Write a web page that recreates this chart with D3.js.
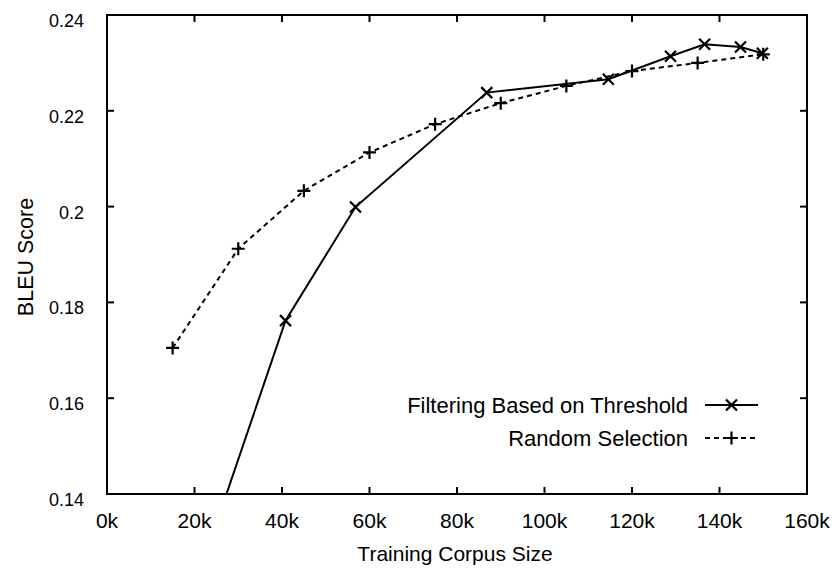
<!DOCTYPE html>
<html>
<head>
<meta charset="utf-8">
<script src="https://cdn.jsdelivr.net/npm/d3@7"></script>
<style>
  html, body { margin: 0; padding: 0; background: #fff; }
  text { font-family: "Liberation Sans", Arial, Helvetica, sans-serif; fill: #000; }
</style>
</head>
<body>
<svg id="chart" width="837" height="572"></svg>
<script>
// ---- data ----
const filterX = [25000, 40800, 56800, 86800, 114600, 128800, 136600, 144800, 149800];
const filterY = [0.1338, 0.1762, 0.1999, 0.2238, 0.2266, 0.2314, 0.2339, 0.2333, 0.2320];
const randomX = [15000, 30000, 45000, 60000, 75000, 90000, 105000, 120000, 135000, 150000];
const randomY = [0.1705, 0.1912, 0.2033, 0.2113, 0.2172, 0.2216, 0.2252, 0.2283, 0.2300, 0.2318];
const xTicks = [0, 20000, 40000, 60000, 80000, 100000, 120000, 140000, 160000];
const xTickLabels = ["0k", "20k", "40k", "60k", "80k", "100k", "120k", "140k", "160k"];
const yTicks = [0.14, 0.16, 0.18, 0.2, 0.22, 0.24];
const yTickLabels = ["0.14", "0.16", "0.18", "0.2", "0.22", "0.24"];
const seriesNames = ["Filtering Based on Threshold", "Random Selection"];
const xTitle = "Training Corpus Size";
const yTitle = "BLEU Score";

// ---- layout ----
const L = 107, R = 807, T = 15, B = 494;
const svg = d3.select("#chart");
const x = d3.scaleLinear().domain([0, 160000]).range([L, R]);
const y = d3.scaleLinear().domain([0.14, 0.24]).range([B, T]);

svg.append("defs").append("clipPath").attr("id", "clip")
  .append("rect").attr("x", L).attr("y", T).attr("width", R - L).attr("height", B - T);

// ticks (inside, mirrored)
const tl = 7;
const tickG = svg.append("g").attr("stroke", "#000").attr("stroke-width", 2);
xTicks.forEach(v => {
  tickG.append("line").attr("x1", x(v)).attr("x2", x(v)).attr("y1", B).attr("y2", B - tl);
  tickG.append("line").attr("x1", x(v)).attr("x2", x(v)).attr("y1", T).attr("y2", T + tl);
});
yTicks.forEach(v => {
  tickG.append("line").attr("x1", L).attr("x2", L + tl).attr("y1", y(v)).attr("y2", y(v));
  tickG.append("line").attr("x1", R).attr("x2", R - tl).attr("y1", y(v)).attr("y2", y(v));
});

// tick labels
svg.append("g").selectAll("text").data(xTicks).join("text")
  .attr("x", d => x(d)).attr("y", B + 34).attr("text-anchor", "middle")
  .attr("font-size", 21).text((d, i) => xTickLabels[i]);
svg.append("g").selectAll("text").data(yTicks).join("text")
  .attr("x", L - 23).attr("y", d => y(d) + 12).attr("text-anchor", "end")
  .attr("font-size", 18).text((d, i) => yTickLabels[i]);

// titles
svg.append("text").attr("x", 455).attr("y", 561).attr("text-anchor", "middle")
  .attr("font-size", 21).text(xTitle);
svg.append("text").attr("transform", `translate(33,257) rotate(-90)`)
  .attr("text-anchor", "middle").attr("font-size", 21.5).text(yTitle);

// frame
svg.append("rect").attr("x", L).attr("y", T).attr("width", R - L).attr("height", B - T)
  .attr("fill", "none").attr("stroke", "#000").attr("stroke-width", 2);

// series
const fData = filterX.map((v, i) => [v, filterY[i]]);
const rData = randomX.map((v, i) => [v, randomY[i]]);
const line = d3.line().x(d => x(d[0])).y(d => y(d[1]));
const plot = svg.append("g").attr("clip-path", "url(#clip)");

function crossPath(cx, cy, s) {
  return `M${cx - s},${cy - s}L${cx + s},${cy + s}M${cx - s},${cy + s}L${cx + s},${cy - s}`;
}
function plusPath(cx, cy, s) {
  return `M${cx - s},${cy}L${cx + s},${cy}M${cx},${cy - s}L${cx},${cy + s}`;
}

plot.append("path").datum(rData).attr("d", line).attr("fill", "none")
  .attr("stroke", "#000").attr("stroke-width", 2).attr("stroke-dasharray", "5,4");
plot.append("path").datum(fData).attr("d", line).attr("fill", "none")
  .attr("stroke", "#000").attr("stroke-width", 2);
plot.append("g").selectAll("path").data(rData).join("path")
  .attr("d", d => plusPath(x(d[0]), y(d[1]), 6.5)).attr("stroke", "#000").attr("stroke-width", 2.2);
plot.append("g").selectAll("path").data(fData).join("path")
  .attr("d", d => crossPath(x(d[0]), y(d[1]), 5.5)).attr("stroke", "#000").attr("stroke-width", 2.2);

// legend
const lx1 = 705, lx2 = 758, lxm = (lx1 + lx2) / 2;
const rows = [405, 438];
const lg = svg.append("g");
lg.append("text").attr("x", 688).attr("y", rows[0] + 7.5).attr("text-anchor", "end")
  .attr("font-size", 22).text(seriesNames[0]);
lg.append("line").attr("x1", lx1).attr("x2", lx2).attr("y1", rows[0]).attr("y2", rows[0])
  .attr("stroke", "#000").attr("stroke-width", 2);
lg.append("path").attr("d", crossPath(lxm, rows[0], 5.5)).attr("stroke", "#000").attr("stroke-width", 2.2);
lg.append("text").attr("x", 688).attr("y", rows[1] + 7.5).attr("text-anchor", "end")
  .attr("font-size", 22).text(seriesNames[1]);
lg.append("line").attr("x1", lx1).attr("x2", lx2).attr("y1", rows[1]).attr("y2", rows[1])
  .attr("stroke", "#000").attr("stroke-width", 2).attr("stroke-dasharray", "5,4");
lg.append("path").attr("d", plusPath(lxm, rows[1], 6.5)).attr("stroke", "#000").attr("stroke-width", 2.2);
</script>
</body>
</html>
